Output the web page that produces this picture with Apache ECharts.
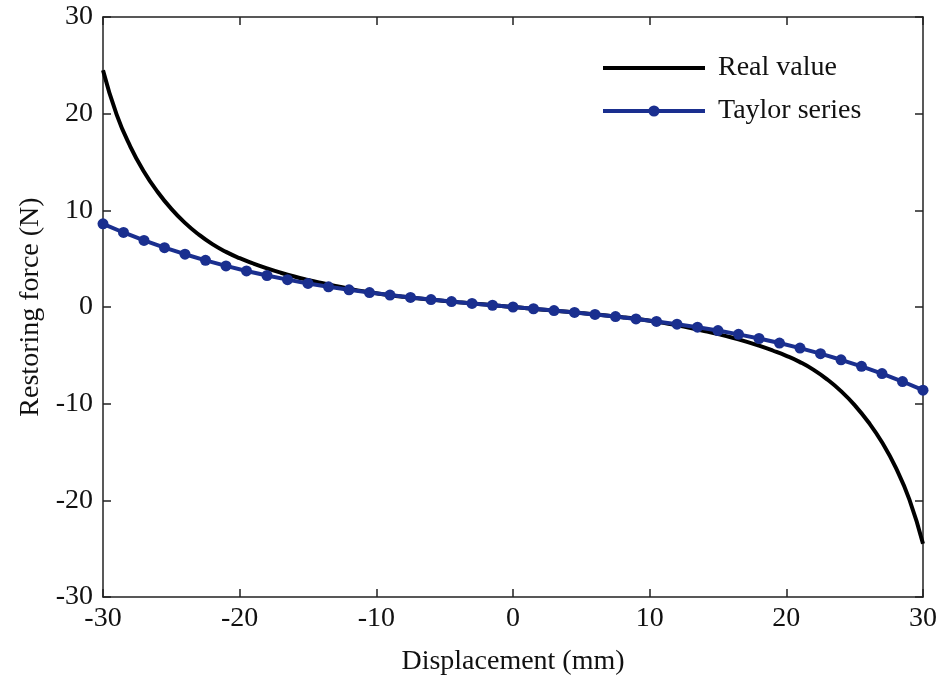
<!DOCTYPE html>
<html>
<head>
<meta charset="utf-8">
<script src="https://cdn.jsdelivr.net/npm/echarts@6/dist/echarts.min.js"></script>
<style>html,body{margin:0;padding:0;background:#fff}#c{width:940px;height:682px}</style>
</head>
<body>
<div id="c"></div>
<script>
// Real value curve, sampled every 1 mm from -30 to 30
const realX = [-30,-29,-28,-27,-26,-25,-24,-23,-22,-21,-20,-19,-18,-17,-16,-15,-14,-13,-12,-11,-10,-9,-8,-7,-6,-5,-4,-3,-2,-1,0,1,2,3,4,5,6,7,8,9,10,11,12,13,14,15,16,17,18,19,20,21,22,23,24,25,26,27,28,29,30];
const realY = [24.5,19.9,16.6,14.0,11.9,10.15,8.7,7.5,6.5,5.7,5.05,4.5,4.0,3.55,3.15,2.8,2.48,2.18,1.9,1.64,1.42,1.22,1.05,0.9,0.76,0.63,0.5,0.375,0.25,0.125,0,
  -0.125,-0.25,-0.375,-0.5,-0.63,-0.76,-0.9,-1.05,-1.22,-1.42,-1.64,-1.9,-2.18,-2.48,-2.8,-3.15,-3.55,-4.0,-4.5,-5.05,-5.7,-6.5,-7.5,-8.7,-10.15,-11.9,-14.0,-16.6,-19.9,-24.5];
// Taylor series, marked every 1.5 mm
const taylorX = [-30,-28.5,-27,-25.5,-24,-22.5,-21,-19.5,-18,-16.5,-15,-13.5,-12,-10.5,-9,-7.5,-6,-4.5,-3,-1.5,0,1.5,3,4.5,6,7.5,9,10.5,12,13.5,15,16.5,18,19.5,21,22.5,24,25.5,27,28.5,30];
const taylorY = [8.6,7.71,6.89,6.14,5.46,4.83,4.25,3.73,3.26,2.83,2.44,2.09,1.78,1.49,1.23,0.99,0.77,0.56,0.37,0.18,0,
  -0.18,-0.37,-0.56,-0.77,-0.99,-1.23,-1.49,-1.78,-2.09,-2.44,-2.83,-3.26,-3.73,-4.25,-4.83,-5.46,-6.14,-6.89,-7.71,-8.6];
const xTicks = [-30,-20,-10,0,10,20,30];
const yTicks = [-30,-20,-10,0,10,20,30];
const seriesNames = ['Real value','Taylor series'];

const FONT = '"Liberation Serif", "Times New Roman", serif';
const FS = 28;
const axisLineStyle = {color:'#222', width:1.5};
const chart = echarts.init(document.getElementById('c'), null, {renderer:'canvas'});
const pairs = (xs, ys) => xs.map((x,i)=>[x, ys[i]]);

const baseX = {
  type:'value', min:xTicks[0], max:xTicks[xTicks.length-1], interval:10,
  axisLine:{show:true, onZero:false, lineStyle:axisLineStyle},
  axisTick:{show:true, inside:true, length:8, lineStyle:axisLineStyle},
  splitLine:{show:false}
};
const baseY = {
  type:'value', min:yTicks[0], max:yTicks[yTicks.length-1], interval:10,
  axisLine:{show:true, onZero:false, lineStyle:axisLineStyle},
  axisTick:{show:true, inside:true, length:8, lineStyle:axisLineStyle},
  splitLine:{show:false}
};

chart.setOption({
  animation:false,
  backgroundColor:'#fff',
  grid:{left:103, right:16, top:17, bottom:85, containLabel:false},
  legend:{
    orient:'vertical', left:596, top:49, itemGap:15,
    itemWidth:102, itemHeight:14,
    textStyle:{fontFamily:FONT, fontSize:FS, color:'#111', padding:[0,0,0,8]},
    lineStyle:{width:4},
    data:[
      {name:seriesNames[0], itemStyle:{opacity:0}},
      {name:seriesNames[1]}
    ]
  },
  xAxis:[
    Object.assign({}, baseX, {
      position:'bottom',
      axisLabel:{show:true, margin:8, fontFamily:FONT, fontSize:FS, color:'#111'},
      name:'Displacement (mm)', nameLocation:'middle', nameGap:51,
      nameTextStyle:{fontFamily:FONT, fontSize:FS, color:'#111'}
    }),
    Object.assign({}, baseX, {position:'top', axisLabel:{show:false}})
  ],
  yAxis:[
    Object.assign({}, baseY, {
      position:'left',
      axisLabel:{show:true, margin:10, fontFamily:FONT, fontSize:FS, color:'#111'},
      name:'Restoring force (N)', nameLocation:'middle', nameGap:58,
      nameTextStyle:{fontFamily:FONT, fontSize:FS, color:'#111'}
    }),
    Object.assign({}, baseY, {position:'right', axisLabel:{show:false}})
  ],
  series:[
    {
      name:seriesNames[0], type:'line', xAxisIndex:0, yAxisIndex:0,
      data:pairs(realX, realY), smooth:true, symbol:'none', showSymbol:false,
      lineStyle:{color:'#000', width:4}, itemStyle:{color:'#000'}, z:2
    },
    {
      name:seriesNames[1], type:'line', xAxisIndex:0, yAxisIndex:0,
      data:pairs(taylorX, taylorY), smooth:false, symbol:'circle', symbolSize:11,
      lineStyle:{color:'#1a2f8f', width:4}, itemStyle:{color:'#1a2f8f'}, z:3
    }
  ]
});
</script>
</body>
</html>
